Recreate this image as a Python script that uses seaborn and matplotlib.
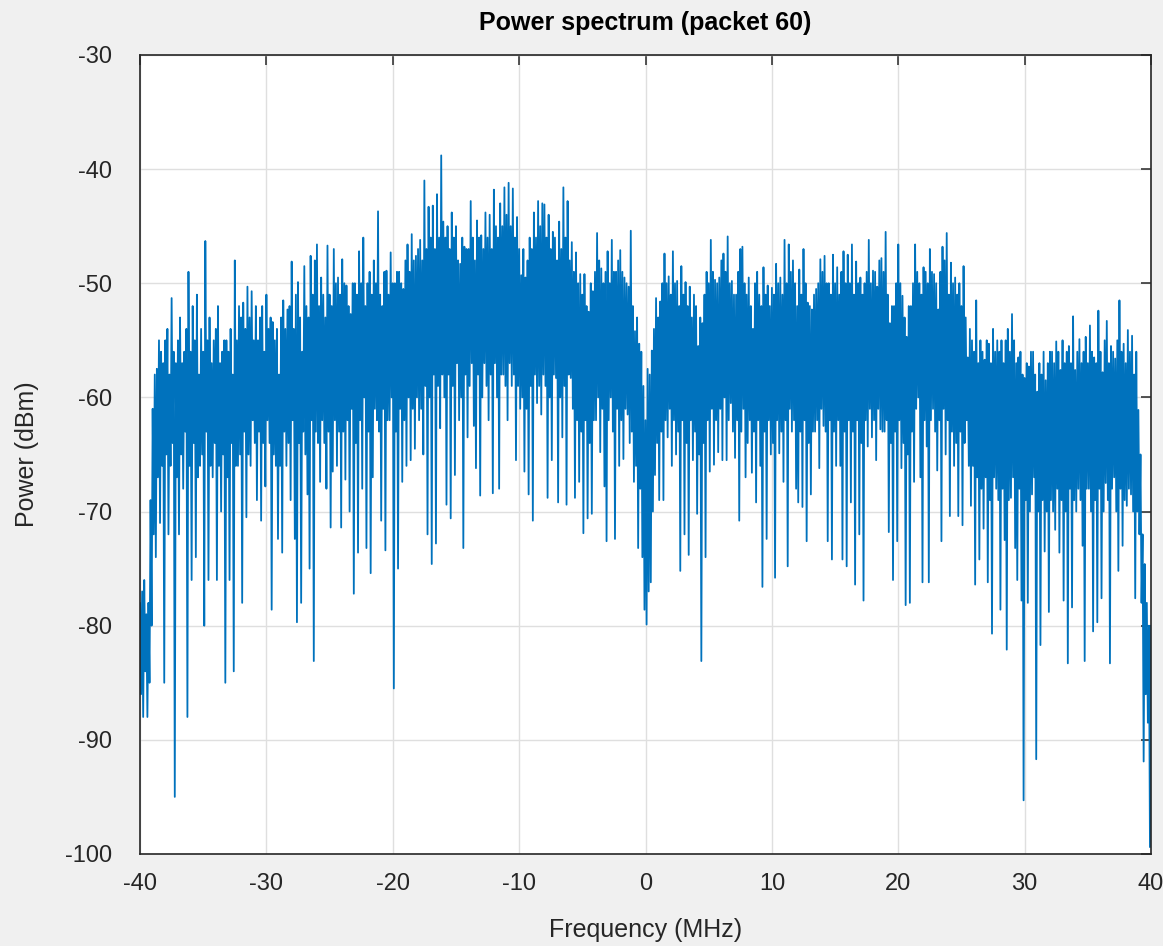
import numpy as np
import pandas as pd
import matplotlib
matplotlib.use("Agg")
import matplotlib.pyplot as plt
import seaborn as sns

# Power (dBm). Each 8 MHz segment has an "upper" and a
# "lower" sample list (1/6 MHz apart, offset by 1/12 MHz from each other).
hi_m40 = [-78, -77, -76, -79, -78, -69, -61, -58, -57.5, -55, -56, -57, -55, -54, -58, -51.3,
          -56, -57, -55, -53, -57, -56, -54, -49, -56, -52, -55, -51, -58, -54, -56, -46.3,
          -55, -53, -57, -55, -54, -52, -57, -56, -55, -55, -56, -54, -58, -48, -55, -52]
lo_m40 = [-86, -88, -84, -88, -85, -80, -72, -74, -67, -71, -66, -85, -65, -72, -66, -64,
          -95, -67, -72, -65, -68, -63, -88, -66, -76, -64, -74, -67, -66, -65, -80, -63,
          -76, -66, -67, -64, -76, -66, -70, -65, -85, -67, -76, -64, -84, -66, -66, -65]
hi_m32 = [-53, -51.7, -54, -50.3, -53, -50.7, -55, -52, -55, -53, -52, -56, -51, -54, -53, -53.4,
          -55, -54, -58, -53, -51.5, -54, -52.3, -52, -48.1, -54, -51, -49.9, -53, -56, -48.5, -52,
          -53, -47.6, -51, -48, -46.6, -52, -49.5, -51, -53, -46.7, -51, -52, -47, -50, -49.5, -51]
lo_m32 = [-78, -63, -70.5, -65, -66, -62, -64, -69, -63, -70.8, -64, -67.8, -62, -64, -78.6, -65,
          -66, -72.4, -66, -73.6, -63, -66, -64, -69, -62, -72.4, -79.7, -64, -78, -63, -65, -68.5,
          -75, -62, -83.1, -63, -64, -67.4, -62, -64, -68, -63, -71.4, -66.5, -62, -66, -63, -71.4]
hi_m24 = [-47.9, -50, -50.2, -52, -52.7, -50, -50, -51, -47.2, -50, -46, -52, -50, -49, -51, -48,
          -50, -43.7, -51, -52, -49, -48.9, -51, -47.3, -50, -50, -49, -49, -50, -50.5, -48, -46.6,
          -49, -45.7, -48, -47.6, -47, -46.2, -48, -41, -47, -43.3, -46, -43.2, -47, -42.2, -46, -38.8]
lo_m24 = [-63, -67.2, -62, -70, -61, -77.2, -64, -73.6, -62, -68, -60, -73.2, -63, -75.4, -67, -61,
          -62, -63, -70.8, -61, -73.4, -62, -62, -60, -85.5, -63, -75, -61, -67.4, -62, -66, -60,
          -65.5, -61, -64.5, -60, -62, -61, -65, -59, -72, -60, -74.6, -58, -72.8, -59, -62.7, -58]
hi_m16 = [-44.6, -46, -45, -47, -43.8, -46, -45, -48, -48.3, -46, -46.8, -47, -47, -42.8, -46, -48,
          -44.5, -46, -45.8, -47, -43.8, -46, -44, -47, -41.8, -45, -46, -43, -45, -41.6, -44, -41.2,
          -45, -41.7, -46, -44.2, -47, -49.3, -47, -49.5, -48, -46, -47, -43.8, -46, -42.8, -45, -43]
lo_m16 = [-60, -69.4, -58, -70.6, -59, -66.8, -57, -62, -60, -73.2, -58, -63.5, -59, -57, -62.5, -66.2,
          -58, -68.6, -60, -57, -59, -62, -58, -68.4, -57, -60, -68, -58, -58, -59, -62, -57,
          -59, -58, -65.5, -59, -61, -60, -66.5, -61, -68.5, -59, -70.8, -58, -60.5, -59, -61.5, -58]
hi_m8 = [-43.1, -46, -44, -47, -45.5, -46, -48, -44.6, -47, -41.6, -46, -42.8, -48, -46.4, -49, -47.3,
         -50, -49.2, -51, -49.2, -52, -52.5, -50, -50.7, -49, -45.6, -48, -48.7, -50, -49, -47.2, -50,
         -46.2, -49, -49, -48, -47.1, -49, -49.5, -50, -50.3, -45.4, -52, -54.2, -53, -55.3, -56, -59]
lo_m8 = [-59, -68.8, -60, -65.5, -58, -58.3, -69.2, -60, -63.5, -59, -69.4, -58, -58.3, -61, -68.8, -62,
         -67.4, -63, -71.9, -62, -70.6, -64, -70.2, -62, -62, -60, -64.8, -61, -67.8, -72.6, -62, -60,
         -63, -72.4, -61, -66, -62, -65.4, -61, -61.5, -64, -63, -67.4, -66, -73.2, -68, -74, -78.6]
hi_p0 = [-62, -57.5, -58, -55.9, -54, -51.3, -53, -51.6, -50, -47.4, -50, -49.4, -51, -47.2, -50, -49.8,
         -52, -48.5, -51, -49.9, -52, -50.3, -53, -51, -52, -55.5, -53, -53.5, -51, -49, -50, -46.2,
         -49, -49.7, -50, -49.5, -48, -47.4, -49, -45.9, -50, -49.8, -51, -51, -49, -47, -46.8, -50]
lo_p0 = [-79.9, -77, -76.2, -70, -66.8, -64, -69, -63, -69, -62, -63.5, -61, -66, -62, -65, -63,
         -75.2, -62, -72, -64, -73.8, -62, -65.5, -63, -70.2, -65, -83.1, -64, -74, -62, -66.5, -61,
         -65.9, -62, -64.8, -61, -65.5, -60, -65.5, -62, -60.5, -63, -65.3, -62, -70.8, -63, -61, -67]
hi_p8 = [-51, -49.5, -52, -54, -50, -49, -51, -52, -48.6, -51, -50.2, -52, -50.4, -51, -48.3, -50,
         -49.5, -51, -46.2, -50, -46.6, -49, -48, -50, -52, -48.8, -51, -47, -50, -51.7, -52, -52.3,
         -51, -50.5, -50, -47.9, -49, -47.6, -50, -50, -51, -47.5, -50, -48.6, -51, -49, -47.2, -50]
lo_p8 = [-64, -62, -66.6, -63, -69.2, -62, -66, -76.6, -63, -72.4, -62, -65, -64, -75.8, -62, -64.9,
         -63, -67.4, -62, -74.8, -61, -63, -62, -68, -69.2, -63, -69.6, -62, -72.6, -64, -68.5, -63,
         -63, -62, -66.2, -61, -62.5, -63, -72.6, -62, -74.2, -63, -66, -62, -66, -74.2, -63, -74.8]
hi_p16 = [-47.5, -50, -46.6, -51, -48.1, -50, -49.5, -51, -50, -49, -46.2, -50, -48.9, -49, -50.3, -48,
          -47.8, -49, -45.5, -51, -53.5, -52, -52, -50, -46.6, -50, -51.1, -53, -54.7, -52, -52, -50,
          -46.6, -49, -50, -51, -48.6, -49, -50, -47, -49, -49.2, -50, -52.3, -49, -46.8, -48, -45.6]
lo_p16 = [-62, -69.2, -63, -76.4, -62, -72, -64, -77.8, -62, -64.3, -61, -63.5, -62, -65.5, -61, -62.8,
          -63, -63, -62, -71.8, -64, -76, -63, -72.6, -62, -66.2, -64, -78.2, -65, -78, -63, -67.4,
          -61, -60, -67, -76.2, -62, -64.3, -76.2, -62, -61, -63, -66.4, -62, -72.6, -61, -65, -62]
hi_p24 = [-51, -48.2, -50, -49.5, -51, -50, -52, -48.5, -53, -56.5, -54, -55, -56, -51.5, -57, -55,
          -56, -56.7, -55, -55.3, -57, -54, -56, -55, -56, -55, -57, -55, -54, -56, -52.7, -55,
          -57, -56.5, -56, -58, -58.3, -57, -57.3, -56, -56, -58, -59.5, -57, -58, -56, -58.5, -57]
lo_p24 = [-70.4, -63, -66, -64, -70.4, -63, -71.2, -64, -62, -66, -69.5, -66, -76.4, -67, -74.2, -68,
          -71.5, -67, -76.2, -69, -80.7, -67, -68, -69, -78.6, -68, -72.5, -82.1, -69, -68.8, -67, -73.2,
          -76, -68, -77.8, -95.3, -69, -78, -70, -68.5, -67, -91.7, -70, -81.7, -69, -73.5, -70, -78.8]
hi_p32 = [-56, -56, -57, -55.1, -56, -57.6, -55, -57, -56, -55.5, -57, -52.9, -57.6, -56, -54.9, -57,
          -56, -54.7, -57, -53.7, -56, -56.5, -57, -52.4, -56, -57.8, -55, -53.3, -57, -55.5, -56, -56.6,
          -55, -51.5, -56, -55.3, -57, -54.1, -56, -54.6, -58, -56, -61.1, -65, -72, -74.6, -78, -80]
lo_p32 = [-69, -70, -71.6, -68, -73.6, -69, -77.8, -70, -83.3, -68, -78.4, -69, -70, -68, -69, -73,
          -83.1, -68, -68, -70, -80.5, -69, -79.7, -68, -77.6, -70, -67.5, -69, -83.3, -68, -67, -70,
          -75.2, -68, -73, -69, -69.5, -68, -68.5, -70, -77.6, -70, -72, -78, -91.9, -86, -88.5, -99.4]
last_point = [-80]

upper = hi_m40 + hi_m32 + hi_m24 + hi_m16 + hi_m8 + hi_p0 + hi_p8 + hi_p16 + hi_p24 + hi_p32
lower = lo_m40 + lo_m32 + lo_m24 + lo_m16 + lo_m8 + lo_p0 + lo_p8 + lo_p16 + lo_p24 + lo_p32
n = min(len(upper), len(lower))
power_dbm = np.concatenate([np.column_stack([upper[:n], lower[:n]]).ravel(), last_point])
freq_mhz = np.linspace(-40, 40, len(power_dbm))

x_ticks = [-40, -30, -20, -10, 0, 10, 20, 30, 40]
y_ticks = [-100, -90, -80, -70, -60, -50, -40, -30]

df = pd.DataFrame({"Frequency (MHz)": freq_mhz, "Power (dBm)": power_dbm})

sns.set_theme(style="white")
plt.rcParams["font.family"] = ["Liberation Sans", "DejaVu Sans"]

fig = plt.figure(figsize=(11.63, 9.46), dpi=100, facecolor="#f0f0f0")
ax = fig.add_axes([0.1204, 0.0973, 0.8693, 0.8446])
ax.set_facecolor("white")

sns.lineplot(data=df, x="Frequency (MHz)", y="Power (dBm)", ax=ax,
             color="#0072BD", linewidth=1.3, estimator=None, sort=False)

ax.set_xlim(-40, 40)
ax.set_ylim(-100, -30)
ax.set_xticks(x_ticks)
ax.set_yticks(y_ticks)
ax.set_xticklabels([str(t) for t in x_ticks])
ax.set_yticklabels([str(t) for t in y_ticks])

ax.grid(True, color="#dfdfdf", linewidth=1.0)
ax.set_axisbelow(True)
for s in ax.spines.values():
    s.set_visible(True)
    s.set_color("#262626")
    s.set_linewidth(1.2)

ax.tick_params(axis="both", which="both", direction="in", length=7, width=1.1,
               color="#262626", labelcolor="#262626", labelsize=17,
               top=True, right=True)
ax.tick_params(axis="x", pad=14)
ax.tick_params(axis="y", pad=20)

ax.set_xlabel("Frequency (MHz)", fontsize=18, color="#262626", labelpad=16)
ax.set_ylabel("Power (dBm)", fontsize=18, color="#262626", labelpad=19)
ax.set_title("Power spectrum (packet 60)", fontsize=18, fontweight="bold",
             color="black", pad=18)

fig.savefig("out.png", dpi=100, facecolor=fig.get_facecolor())
